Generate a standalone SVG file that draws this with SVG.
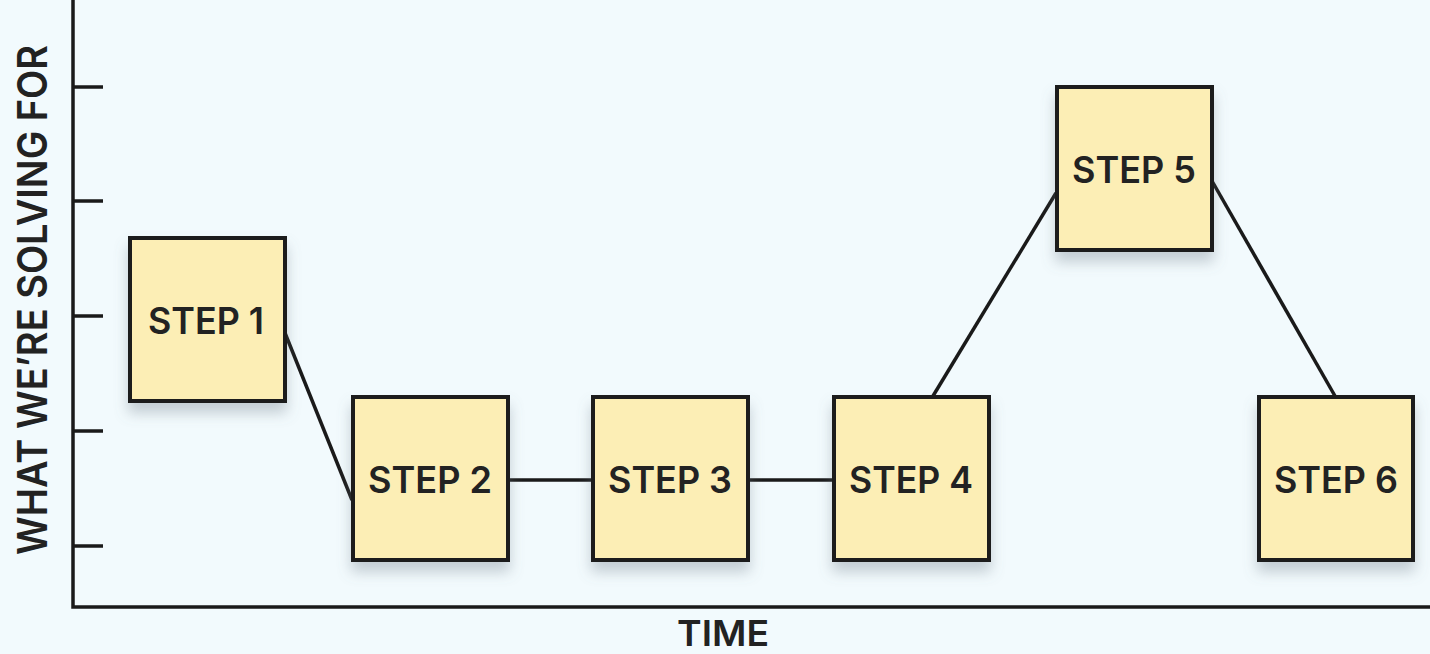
<svg xmlns="http://www.w3.org/2000/svg" width="1430" height="654" viewBox="0 0 1430 654">
<defs>
<filter id="sh" x="-20%" y="-20%" width="140%" height="150%">
<feDropShadow dx="0" dy="10" stdDeviation="7" flood-color="#6b7a85" flood-opacity="0.35"/>
</filter>
<style>
.box{fill:#FCEEB5;stroke:#1a1a1a;stroke-width:4}
.lbl{font-family:Inter,"Liberation Sans",sans-serif;font-weight:600;font-size:37px;fill:#222;text-anchor:middle}
.tlbl{font-family:Inter,"Liberation Sans",sans-serif;font-weight:600;font-size:36px;fill:#222;text-anchor:middle}
.ylbl{font-family:Inter,"Liberation Sans",sans-serif;font-weight:600;font-size:41px;fill:#222;text-anchor:middle}
.ax{stroke:#1a1a1a;stroke-width:3.5;fill:none}
.con{stroke:#1a1a1a;stroke-width:3.5;fill:none}
</style>
</defs>
<rect width="1430" height="654" fill="#F2FAFD"/>
<g id="axes">
<path class="ax" d="M73,0 V607 H1430"/>
<path class="ax" d="M73,87 H103 M73,201 H103 M73,316 H103 M73,431 H103 M73,546 H103"/>
<text class="tlbl" x="723" y="646" textLength="92" lengthAdjust="spacingAndGlyphs">TIME</text>
<text class="ylbl" transform="translate(47,300) rotate(-90)" x="0" y="0" textLength="510" lengthAdjust="spacingAndGlyphs">WHAT WE’RE SOLVING FOR</text>
</g>
<g id="connectors">
<line class="con" x1="285" y1="333" x2="352" y2="500"/>
<line class="con" x1="508" y1="480" x2="592" y2="480"/>
<line class="con" x1="748" y1="480" x2="833" y2="480"/>
<line class="con" x1="933" y1="396" x2="1056" y2="193"/>
<line class="con" x1="1212" y1="181" x2="1335" y2="396"/>
</g>
<g id="step1"><rect class="box" x="130" y="238" width="155" height="163" filter="url(#sh)"/><text class="lbl" x="206" y="334" textLength="116" lengthAdjust="spacingAndGlyphs">STEP 1</text></g>
<g id="step2"><rect class="box" x="353" y="397" width="155" height="163" filter="url(#sh)"/><text class="lbl" x="430" y="493" textLength="124" lengthAdjust="spacingAndGlyphs">STEP 2</text></g>
<g id="step3"><rect class="box" x="593" y="397" width="155" height="163" filter="url(#sh)"/><text class="lbl" x="670" y="493" textLength="124" lengthAdjust="spacingAndGlyphs">STEP 3</text></g>
<g id="step4"><rect class="box" x="834" y="397" width="155" height="163" filter="url(#sh)"/><text class="lbl" x="911" y="493" textLength="124" lengthAdjust="spacingAndGlyphs">STEP 4</text></g>
<g id="step5"><rect class="box" x="1057" y="87" width="155" height="163" filter="url(#sh)"/><text class="lbl" x="1134" y="183" textLength="124" lengthAdjust="spacingAndGlyphs">STEP 5</text></g>
<g id="step6"><rect class="box" x="1259" y="397" width="154" height="163" filter="url(#sh)"/><text class="lbl" x="1336" y="493" textLength="124" lengthAdjust="spacingAndGlyphs">STEP 6</text></g>
</svg>
